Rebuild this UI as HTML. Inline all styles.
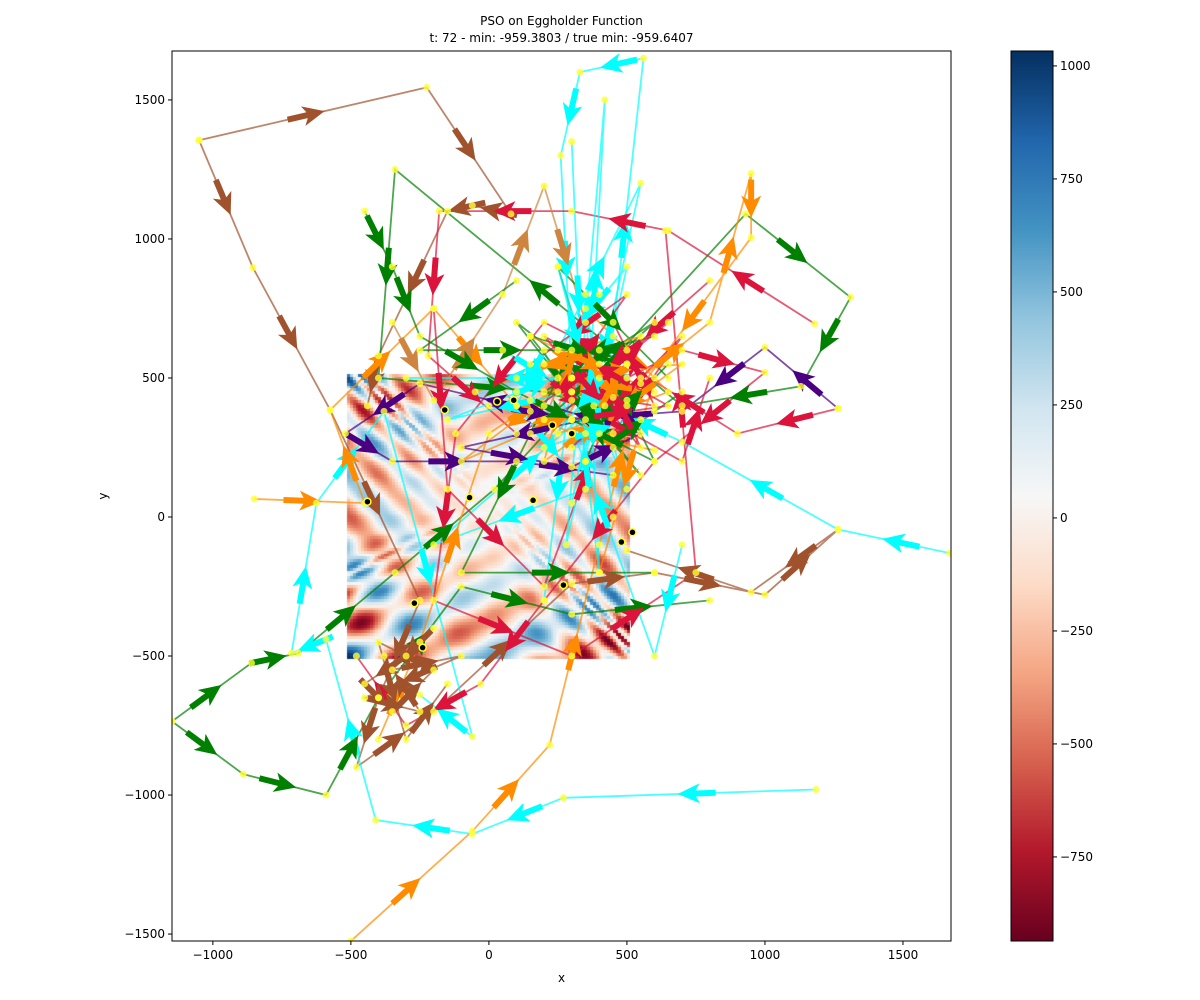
<!DOCTYPE html>
<html><head><meta charset="utf-8"><style>
body{margin:0;background:#fff;width:1200px;height:1000px;overflow:hidden;font-family:"DejaVu Sans","Liberation Sans",sans-serif}
#wrap{position:relative;width:1200px;height:1000px}
canvas,svg{position:absolute;left:0;top:0}
</style></head><body>
<div id="wrap">
<canvas id="hm" width="1200" height="1000"></canvas>
<svg id="sv" width="1200" height="1000"></svg>
</div>
<script>
// ---- data ----
const xTicks=[-1000,-500,0,500,1000,1500];
const yTicks=[-1500,-1000,-500,0,500,1000,1500];
const cbTicks=[-750,-500,-250,0,250,500,750,1000];
const titleLines=["PSO on Eggholder Function","t: 72 - min: -959.3803 / true min: -959.6407"];
const vmin=-936, vmax=1033;
const gridN=100;
const pathColors=["#a0522d","#a0522d","#00ffff","#00ffff","#008000","#008000","#dc143c","#dc143c","#ff8c00","#ff8c00","#4b0082","#cd853f","#00ffff","#008000","#dc143c","#ff8c00",
 "#00ffff","#008000","#dc143c","#ff8c00","#4b0082","#a0522d","#00ffff","#008000","#dc143c","#ff8c00","#008000","#00ffff","#a0522d","#dc143c"];
const paths=[
 [[-1050,1355],[-225,1545],[80,1090],[-60,1120],[-150,1100],[-400,580],[-440,400]],
 [[-1050,1355],[-855,897],[-575,385],[-250,-300],[-400,-650],[-480,-900],[-200,-700],[300,-240],[600,-200],[1000,-280],[1265,-45],[950,-270],[500,-120]],
 [[1670,-130],[1265,-45],[700,270],[420,400],[560,1650],[330,1600],[260,1300],[300,500],[200,-300]],
 [[1185,-980],[270,-1010],[-60,-1140],[-410,-1090],[-590,-440],[-715,-490],[-625,50],[-380,380],[-60,-790],[-250,-640]],
 [[-1148,-735],[-890,-925],[-590,-1000],[-400,-650],[-100,-250],[300,-350],[800,-300]],
 [[-1148,-735],[-860,-525],[-690,-490],[-340,-200],[20,100],[930,1090],[1310,790],[1130,470],[700,400],[-340,1250],[-400,500],[450,430]],
 [[1180,695],[650,1030],[300,1100],[-180,1100],[-220,580],[100,300],[700,600],[1000,520],[600,200],[200,-300],[-30,-600],[-300,-750],[-480,-500]],
 [[1265,390],[900,300],[500,550],[200,700],[-120,300],[-200,-300],[300,-500],[750,-200],[640,1030]],
 [[-500,-1525],[-60,-1130],[220,-820],[400,-100],[550,500],[800,700],[950,1235],[950,1005],[500,400]],
 [[-850,65],[-450,50],[-575,385],[-200,750],[100,400],[300,300],[600,240]],
 [[1265,390],[1000,610],[700,380],[300,350],[-250,480],[-520,300],[-350,200],[100,200],[450,150]],
 [[-350,700],[-200,420],[50,800],[200,1190],[350,700],[200,350]],
 [[700,-100],[600,-500],[200,600],[100,400],[350,100],[-200,-100],[500,500],[-300,500]],
 [[100,850],[-250,600],[400,600],[600,200],[200,400],[-100,-200],[600,-200]],
 [[-200,750],[-150,100],[200,-250],[500,550],[300,420],[700,200],[800,500]],
 [[-400,-800],[-250,-450],[0,300],[300,500],[-100,200],[600,500],[400,-200]],
 [[300,1350],[350,200],[420,1500],[280,-100],[500,900],[250,600],[550,1200],[300,50]],
 [[400,800],[150,300],[600,700],[200,450],[550,350],[100,700],[450,250],[250,900],[650,500]],
 [[250,450],[500,800],[150,550],[450,300],[700,650],[300,250],[550,480]],
 [[100,500],[450,650],[250,300],[650,450],[350,750],[200,200],[500,420]],
 [[0,400],[350,350],[-100,250],[300,180],[550,300],[150,420]],
 [[-300,-500],[-450,-600],[-350,-700],[-200,-550],[-400,-450],[-300,-800],[-150,-600]],
 [[450,0],[350,800],[400,-200],[300,600],[500,100],[250,900],[380,400]],
 [[600,650],[200,550],[550,150],[150,650],[500,550],[350,200],[700,450]],
 [[800,850],[400,500],[650,700],[300,450],[600,400],[450,700]],
 [[150,650],[600,450],[250,500],[700,550],[350,300],[550,650],[-50,450]],
 [[-450,1100],[-350,900],[-250,650],[100,450],[400,300],[650,550]],
 [[50,600],[300,450],[-150,350],[500,600],[200,250],[600,380]],
 [[-200,-400],[-350,-550],[-100,-500],[-450,-650],[-250,-700],[-380,-500]],
 [[300,350],[650,400],[200,650],[550,250],[400,550],[150,380]]
];
const curX=[-440,-70,160,-270,-240,480,520,270,30,-160,90,230,300];
const curY=[55,70,60,-310,-470,-90,-55,-245,415,385,420,330,300];
// ---- axes ----
const L=172,R=951,T=51,B=941,X0=-1148,X1=1674,Y0=-1525,Y1=1676;
const sx=v=>L+(v-X0)/(X1-X0)*(R-L);
const sy=v=>B-(v-Y0)/(Y1-Y0)*(B-T);
const CBL=1011,CBR=1053;
const cy=v=>B-(v-vmin)/(vmax-vmin)*(B-T);
const stops=["#67001f","#b2182b","#d6604d","#f4a582","#fddbc7","#f7f7f7","#d1e5f0","#92c5de","#4393c3","#2166ac","#053061"].map(h=>[1,3,5].map(i=>parseInt(h.substr(i,2),16)));
function cmap(t){t=Math.max(0,Math.min(1,t))*10;const i=Math.min(9,Math.floor(t)),f=t-i;return stops[i].map((c,k)=>Math.round(c+(stops[i+1][k]-c)*f));}
function egg(x,y){return -(y+47)*Math.sin(Math.sqrt(Math.abs(x/2+y+47)))-x*Math.sin(Math.sqrt(Math.abs(x-(y+47))));}
const cv=document.getElementById('hm').getContext('2d');
const hx0=sx(-512),hx1=sx(512),hy0=sy(512),hy1=sy(-512);
const cw=(hx1-hx0)/gridN,ch=(hy1-hy0)/gridN;
for(let j=0;j<gridN;j++)for(let i=0;i<gridN;i++){
 const x=-512+i*1024/(gridN-1),y=-512+j*1024/(gridN-1);
 const c=cmap((egg(x,y)-vmin)/(vmax-vmin));
 cv.fillStyle=`rgb(${c})`;
 cv.fillRect(Math.floor(hx0+i*cw),Math.floor(hy0+j*ch),Math.ceil(cw)+1,Math.ceil(ch)+1);
}
cv.clearRect(0,0,Math.floor(hx0),1000);cv.clearRect(Math.round(hx1),0,CBL-Math.round(hx1)-2,1000);
cv.clearRect(0,Math.round(hy1),CBL-2,1000-Math.round(hy1));
for(let j=T;j<B;j++){const c=cmap((B-j)/(B-T));cv.fillStyle=`rgb(${c})`;cv.fillRect(CBL,j,CBR-CBL,1);}
// ---- svg ----
const NS="http://www.w3.org/2000/svg",sv=document.getElementById('sv');
function mk(tag,at,parent){const e=document.createElementNS(NS,tag);for(const k in at)e.setAttribute(k,at[k]);(parent||sv).appendChild(e);return e;}
const clip=mk('clipPath',{id:'cp'});mk('rect',{x:L,y:T,width:R-L,height:B-T},clip);
const g=mk('g',{'clip-path':'url(#cp)'});


paths.forEach((p,k)=>{
 const col=pathColors[k];
 const pl=mk('polyline',{points:p.map(q=>sx(q[0])+','+sy(q[1])).join(' '),fill:'none',stroke:col,'stroke-width':1.8,'stroke-opacity':0.7},g);
 
 
});
paths.forEach((p,k)=>{
 const col=pathColors[k];
 for(let i=0;i<p.length-1;i++){
  const ax=sx(p[i][0]),ay=sy(p[i][1]),bx=sx(p[i+1][0]),by=sy(p[i+1][1]);
  const ang=Math.atan2(by-ay,bx-ax)*180/Math.PI,mx=(ax+bx)/2,my=(ay+by)/2;
  const a=mk('polygon',{points:'-26,-3 -6,-3 -10,-10 12,0 -10,10 -6,3 -26,3',fill:col,transform:`translate(${mx},${my}) rotate(${ang})`},g);
  
  
 }
});
paths.forEach(p=>p.forEach(q=>{
 const c=mk('circle',{cx:sx(q[0]),cy:sy(q[1]),r:3.5,fill:'#ffff33','fill-opacity':0.8},g);
 
 
}));
curX.forEach((x,i)=>{
 const c=mk('circle',{cx:sx(x),cy:sy(curY[i]),r:3.5,fill:'#000',stroke:'#ffff33','stroke-width':1.5},g);
 
 
});
const fr=mk('rect',{x:L,y:T,width:R-L,height:B-T,fill:'none',stroke:'#000','stroke-width':1});


xTicks.forEach(v=>{const x=sx(v);mk('line',{x1:x,x2:x,y1:B,y2:B+4,stroke:'#000'});
 const t=mk('text',{x:x,y:B+18,'text-anchor':'middle','font-size':12});t.textContent=String(v).replace('-','\u2212');
 
 });
yTicks.forEach(v=>{const y=sy(v);mk('line',{x1:L-4,x2:L,y1:y,y2:y,stroke:'#000'});
 const t=mk('text',{x:L-7,y:y+4,'text-anchor':'end','font-size':12});t.textContent=String(v).replace('-','\u2212');
 
 });
const cbf=mk('rect',{x:CBL,y:T,width:CBR-CBL,height:B-T,fill:'none',stroke:'#000'});


cbTicks.forEach(v=>{const y=cy(v);mk('line',{x1:CBR,x2:CBR+4,y1:y,y2:y,stroke:'#000'});
 const t=mk('text',{x:CBR+7,y:y+4,'font-size':12});t.textContent=String(v).replace('-','\u2212');
 
 });
const xl=mk('text',{x:(L+R)/2,y:982,'text-anchor':'middle','font-size':12});xl.textContent='x';


const yl=mk('text',{x:107,y:496,'text-anchor':'middle','font-size':12,transform:'rotate(-90 107 496)'});yl.textContent='y';


titleLines.forEach((s,i)=>{const t=mk('text',{x:(L+R)/2,y:25+i*17,'text-anchor':'middle','font-size':12});t.textContent=s;
 
 });
</script>
</body></html>
